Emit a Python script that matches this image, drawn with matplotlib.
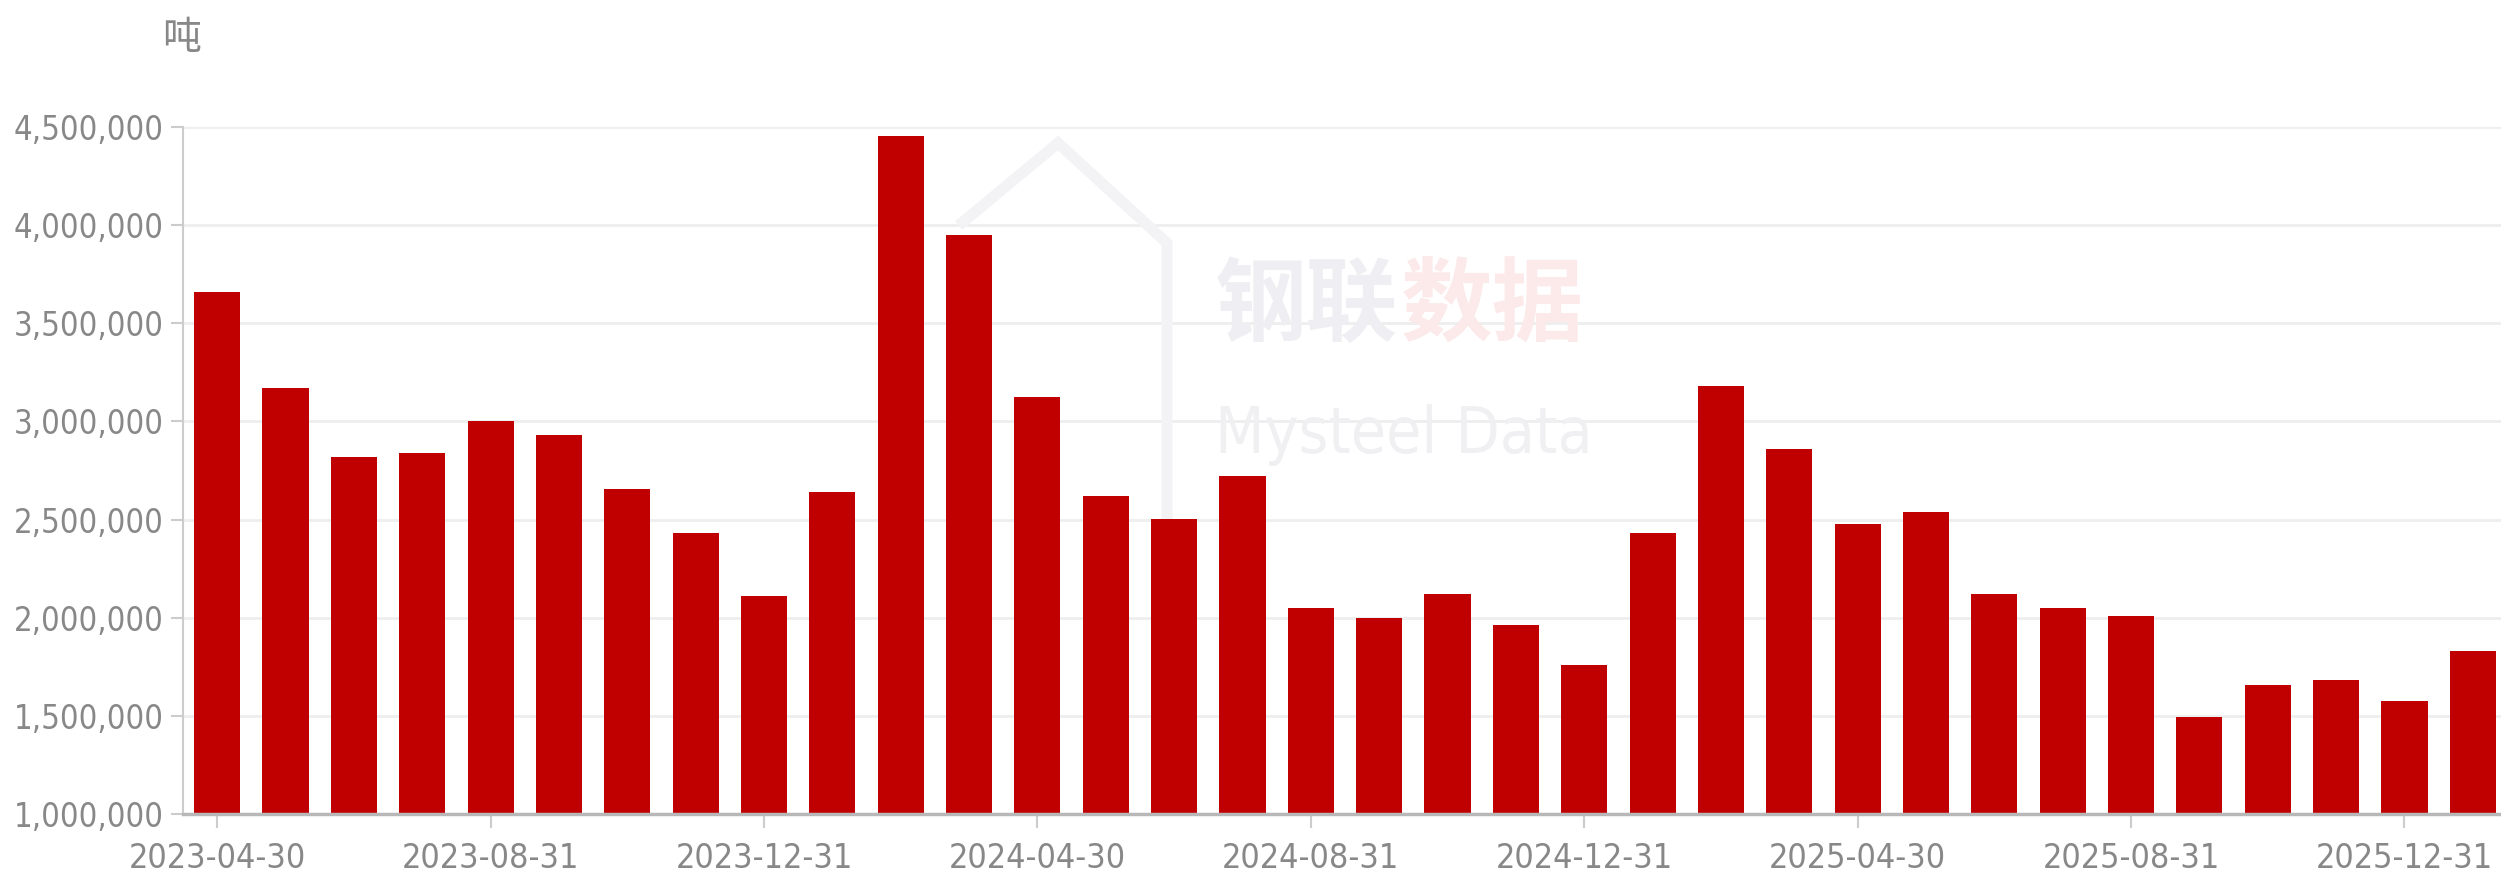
import numpy as np
import matplotlib
matplotlib.use('Agg')
import matplotlib.pyplot as plt
from matplotlib.lines import Line2D

# monthly values, tonnes
months = ['2023-04-30', '2023-05-31', '2023-06-30', '2023-07-31', '2023-08-31', '2023-09-30',
          '2023-10-31', '2023-11-30', '2023-12-31', '2024-01-31', '2024-02-29', '2024-03-31',
          '2024-04-30', '2024-05-31', '2024-06-30', '2024-07-31', '2024-08-31', '2024-09-30',
          '2024-10-31', '2024-11-30', '2024-12-31', '2025-01-31', '2025-02-28', '2025-03-31',
          '2025-04-30', '2025-05-31', '2025-06-30', '2025-07-31', '2025-08-31', '2025-09-30',
          '2025-10-31', '2025-11-30', '2025-12-31', '2026-01-31']
values = [3657000, 3170000, 2819000, 2841000, 3000000, 2931000,
          2654000, 2430000, 2113000, 2639000, 4453000, 3949000,
          3126000, 2622000, 2505000, 2722000, 2047000, 1998000,
          2123000, 1964000, 1758000, 2434000, 3180000, 2859000,
          2477000, 2539000, 2121000, 2051000, 2007000, 1493000,
          1658000, 1681000, 1575000, 1830000]
y_ticks = [1000000, 1500000, 2000000, 2500000, 3000000, 3500000, 4000000, 4500000]
unit = '吨'

W, H = 2501, 886
fig = plt.figure(figsize=(W / 100, H / 100), dpi=100)
# plot area, in pixels of the full picture (right edge runs just past the image)
ax = fig.add_axes([183 / W, 1 - 814 / H, (2507 - 183) / W, (814 - 127) / H])

x = np.arange(len(values))
ax.bar(x, values, width=0.675, color='#c00000', zorder=3)
ax.set_xlim(-0.5, len(values) - 0.5)
ax.set_ylim(y_ticks[0], y_ticks[-1])
ax.set_yticks(y_ticks)
ax.set_yticklabels([f'{v:,}' for v in y_ticks])
ax.set_xticks(x[::4])
ax.set_xticklabels(months[::4])
ax.grid(axis='y', color='#eeeeee', lw=2, zorder=0)
ax.set_axisbelow(True)
for s in ['top', 'right']:
    ax.spines[s].set_visible(False)
ax.spines['left'].set_color('#cccccc')
ax.spines['left'].set_linewidth(1.5)
ax.spines['bottom'].set_color('#b8b8b8')
ax.spines['bottom'].set_linewidth(2.5)
ax.spines['bottom'].set_zorder(4)
ax.tick_params(axis='y', colors='#cccccc', labelcolor='#888888', length=9, width=1.5, pad=5)
ax.tick_params(axis='x', colors='#cccccc', labelcolor='#888888', length=10, width=1.5, pad=10)
for lab in ax.get_yticklabels():
    lab.set_family('DejaVu Sans')
    lab.set_stretch('condensed')
    lab.set_fontsize(23.5)
for lab in ax.get_xticklabels():
    lab.set_family('DejaVu Sans')
    lab.set_stretch('condensed')
    lab.set_fontsize(24.5)

# unit label
fig.text(182 / W, 1 - 38 / H, unit, family=['Noto Sans CJK SC', 'DejaVu Sans'],
         fontsize=28, color='#888888', ha='center', va='center')

# faint watermark
tf = fig.transFigure
logo_x = np.array([963, 1058, 1167, 1167])
logo_y = np.array([222, 143, 243, 560])
ax.add_line(Line2D(logo_x / W, 1 - logo_y / H, transform=tf, color='#f3f3f6',
                   lw=8, solid_joinstyle='miter', zorder=1, clip_on=False))
ax.text(1215 / W, 1 - 307 / H, '钢联', transform=tf, family=['Noto Sans CJK SC', 'DejaVu Sans'],
        fontsize=66, fontweight='bold', color='#efeff3', ha='left', va='center', zorder=1)
ax.text(1401 / W, 1 - 307 / H, '数据', transform=tf, family=['Noto Sans CJK SC', 'DejaVu Sans'],
        fontsize=66, fontweight='bold', color='#fce9e9', ha='left', va='center', zorder=1)
ax.text(1215 / W, 1 - 435 / H, 'Mysteel Data', transform=tf, family='DejaVu Sans',
        fontstretch='condensed', fontsize=46, color='#f0f0f3', ha='left', va='center', zorder=1)

fig.savefig('out.png', dpi=100)
